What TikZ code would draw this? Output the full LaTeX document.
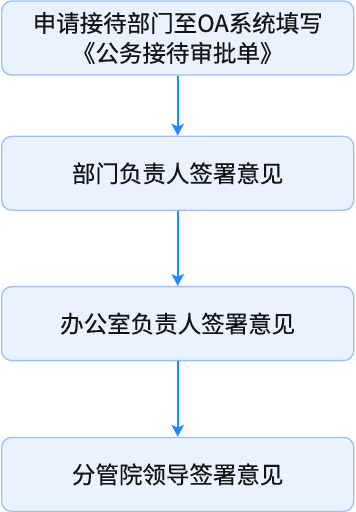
\documentclass[tikz,border=0pt]{standalone}
\usepackage{fontspec}
\setmainfont{Noto Sans CJK SC}
\usepackage{xcolor}
\usepackage{tikz}
\usetikzlibrary{arrows.meta, positioning}
\definecolor{flFill}{RGB}{234,242,255}
\definecolor{flEdge}{RGB}{150,192,255}
\definecolor{flBlue}{RGB}{30,138,255}
\definecolor{flInk}{RGB}{20,20,20}

\begin{document}
\begin{tikzpicture}[
  stepbox/.style={draw=flEdge,fill=flFill,line width=1.3pt,rounded corners=10pt,
                  minimum width=352pt,minimum height=74pt,inner sep=0pt,
                  text=flInk,align=center,
                  font=\fontsize{23.5}{30}\selectfont\addfontfeature{FakeBold=0.3}},
  flow/.style={draw=flBlue,line width=1.7pt,
               -{Stealth[length=12pt,width=12.5pt,inset=3pt]}}]

\useasboundingbox (0,0) rectangle (356pt,-512pt);

% ===== Steps =====
\node[stepbox] (s1) at (177.7pt,-38pt)
  {申请接待部门至OA系统填写\\《公务接待审批单》};
\node[stepbox,below=60pt of s1] (s2) {部门负责人签署意见};
\node[stepbox,below=75pt of s2] (s3) {办公室负责人签署意见};
\node[stepbox,below=75.5pt of s3] (s4) {分管院领导签署意见};

% ===== Arrows =====
\draw[flow] (s1) -- (s2);
\draw[flow] (s2) -- (s3);
\draw[flow] (s3) -- (s4);
\end{tikzpicture}
\end{document}
